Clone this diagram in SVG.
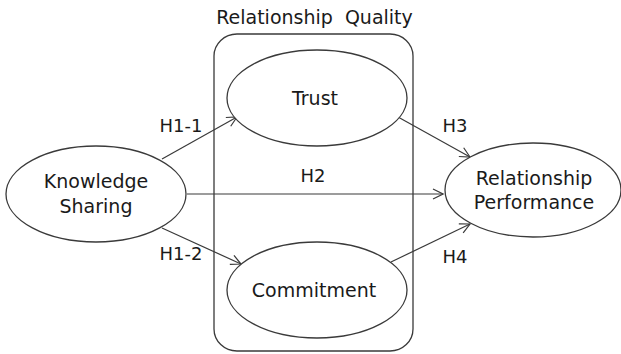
<svg xmlns="http://www.w3.org/2000/svg" width="621" height="354" viewBox="0 0 621 354">
  <style>
    .shape { fill: none; stroke: #3a3a3a; stroke-width: 1.3; }
    .node { fill: #ffffff; stroke: #3a3a3a; stroke-width: 1.3; }
    .edge { fill: none; stroke: #3a3a3a; stroke-width: 1.2; marker-end: url(#arrow); }
    text { font-family: "DejaVu Sans", "Noto Sans", sans-serif; font-size: 19px; fill: #1a1a1a; text-anchor: middle; }
    .lbl { font-size: 18px; }
  </style>
  <defs>
    <marker id="arrow" viewBox="0 0 12 12" refX="11" refY="6" markerWidth="12" markerHeight="12" markerUnits="userSpaceOnUse" orient="auto">
      <path d="M1,1 L11,6 L1,11" fill="none" stroke="#3a3a3a" stroke-width="1.2"/>
    </marker>
  </defs>

  <rect fill="#ffffff" width="621" height="354"/>

  <!-- mediator container -->
  <g id="relationship-quality">
    <rect class="shape" x="214" y="34" width="199" height="317" rx="23" ry="22"/>
    <text x="314.5" y="24" xml:space="preserve">Relationship  Quality</text>
  </g>

  <!-- connectors -->
  <g id="connectors">
    <line class="edge" x1="162" y1="159" x2="237" y2="117"/>
    <line class="edge" x1="187" y1="194" x2="443" y2="194"/>
    <line class="edge" x1="162" y1="228" x2="241" y2="264"/>
    <line class="edge" x1="398" y1="117" x2="470" y2="157"/>
    <line class="edge" x1="391" y1="262" x2="470" y2="224"/>
    <text class="lbl" x="181" y="132">H1-1</text>
    <text class="lbl" x="313" y="182">H2</text>
    <text class="lbl" x="181" y="260">H1-2</text>
    <text class="lbl" x="455" y="132">H3</text>
    <text class="lbl" x="455" y="263">H4</text>
  </g>

  <g id="knowledge-sharing">
    <ellipse class="node" cx="96" cy="194" rx="90" ry="48"/>
    <text x="96" y="188">Knowledge</text>
    <text x="96" y="213">Sharing</text>
  </g>

  <g id="trust">
    <ellipse class="node" cx="317" cy="98" rx="90" ry="48"/>
    <text x="315" y="105">Trust</text>
  </g>

  <g id="commitment">
    <ellipse class="node" cx="317" cy="290" rx="90" ry="48"/>
    <text x="314" y="297">Commitment</text>
  </g>

  <g id="relationship-performance">
    <ellipse class="node" cx="533" cy="190" rx="88" ry="47"/>
    <text x="534" y="185">Relationship</text>
    <text x="534" y="209">Performance</text>
  </g>
</svg>
